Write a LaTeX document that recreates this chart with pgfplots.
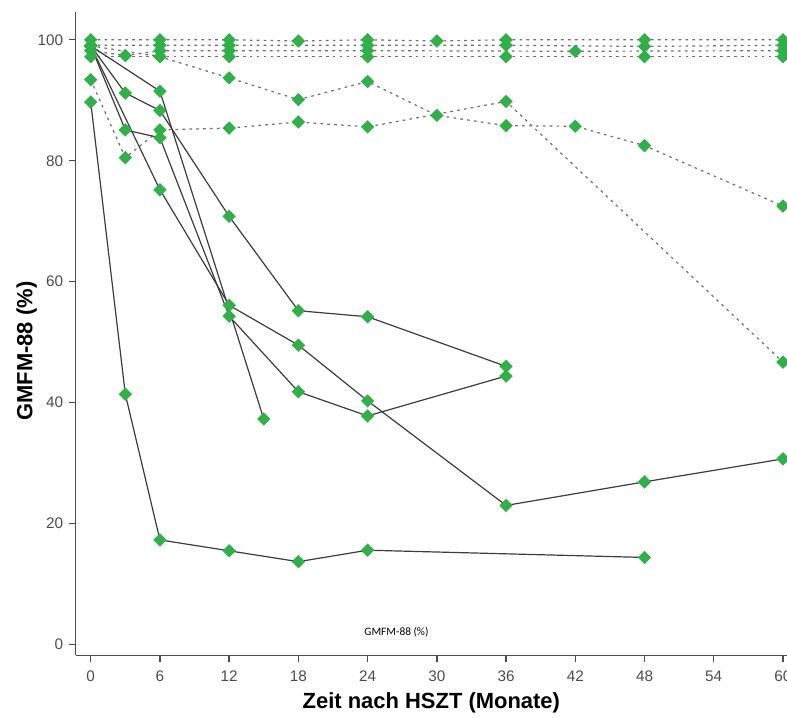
\documentclass[border=0pt]{standalone}
\usepackage{pgfplots}
\pgfplotsset{compat=1.18}
\usepackage{fontspec}
\setmainfont{Liberation Sans}
\newfontfamily\notefont{Carlito}

\definecolor{mkgreen}{RGB}{46,178,72}
\definecolor{solidgray}{RGB}{60,60,60}
\definecolor{dotgray}{RGB}{110,110,110}

\pgfplotsset{
  pt/.style={mark=square*, mark size=3.1pt, mark options={solid, rotate=45, fill=mkgreen, draw=mkgreen}},
  solidline/.style={solidgray, line width=0.9pt, pt},
  dotline/.style={dotgray, line width=0.9pt, dash pattern=on 2pt off 3.2pt, pt},
}

\begin{document}
\begin{tikzpicture}
\begin{axis}[
    scale only axis,
    width=534.75pt,
    height=483.75pt,
    xmin=-1.3, xmax=60.35,
    ymin=-1.8, ymax=104.6,
    axis x line*=bottom,
    axis y line*=left,
    axis line style={black!70, line width=1pt},
    tick style={black!70, line width=1pt},
    tick align=outside,
    major tick length=5pt,
    xtick={0,6,...,60},
    ytick={0,20,...,100},
    /pgf/number format/assume math mode=true,
    ticklabel style={font=\fontsize{11.5}{13}\selectfont, text=black!70},
    xticklabel style={yshift=-3pt},
    yticklabel style={xshift=-1pt},
    xlabel={Zeit nach HSZT (Monate)},
    ylabel={GMFM-88 (\%)},
    xlabel style={font=\bfseries\fontsize{16.5}{18}\selectfont, at={(axis description cs:0.5,0)}, anchor=center, yshift=-36pt},
    ylabel style={font=\bfseries\fontsize{16.5}{18}\selectfont, at={(axis description cs:-0.069,0.473)}, anchor=center},
]
% horizontal dotted rows near 100 %
\addplot[dotline] coordinates {(0,100) (6,100) (12,100) (18,99.8) (24,100) (30,99.8) (36,100) (48,100) (60,100)};
\addplot[dotline] coordinates {(0,99.1) (6,99.1) (12,99.1) (24,99.1) (36,99.1) (48,98.9) (60,99.1)};
\addplot[dotline] coordinates {(0,98.2) (3,97.4) (6,98.2) (12,98.2) (24,98.2) (42,98.1) (60,98.2)};
\addplot[dotline] coordinates {(0,97.2) (6,97.2) (12,97.2) (24,97.2) (36,97.2) (48,97.2) (60,97.2)};
% descending dotted
\addplot[dotline] coordinates {(0,99) (6,97.2) (12,93.7) (18,90.1) (24,93.1) (30,87.5) (36,85.8) (42,85.7) (48,82.5) (60,72.5)};
\addplot[dotline] coordinates {(0,93.4) (3,80.5) (6,85.1) (12,85.4) (18,86.4) (24,85.6) (36,89.8) (60,46.7)};
% solid lines
\addplot[solidline] coordinates {(0,99) (3,91.2) (6,88.3) (12,70.8) (18,55.2) (24,54.2) (36,46.0)};
\addplot[solidline] coordinates {(0,99) (6,75.2) (12,56.1) (18,49.5) (24,40.3) (36,23.0) (48,26.9) (60,30.7)};
\addplot[solidline] coordinates {(0,99) (3,85.1) (6,83.8) (12,54.3) (18,41.8) (24,37.8) (36,44.4)};
\addplot[solidline] coordinates {(0,99) (6,91.5) (15,37.3)};
\addplot[solidline] coordinates {(0,89.7) (3,41.4) (6,17.3) (12,15.5) (18,13.7) (24,15.6) (48,14.4)};
\node[font=\notefont\fontsize{8.5}{10}\selectfont, draw=black!6, inner sep=1.5pt] at (axis cs:26.5,2) {GMFM-88 (\%)};
\end{axis}
\pgfresetboundingbox
\path ([xshift=-9pt]current axis.outer south west) rectangle ([yshift=9pt]current axis.north east);
\end{tikzpicture}
\end{document}
